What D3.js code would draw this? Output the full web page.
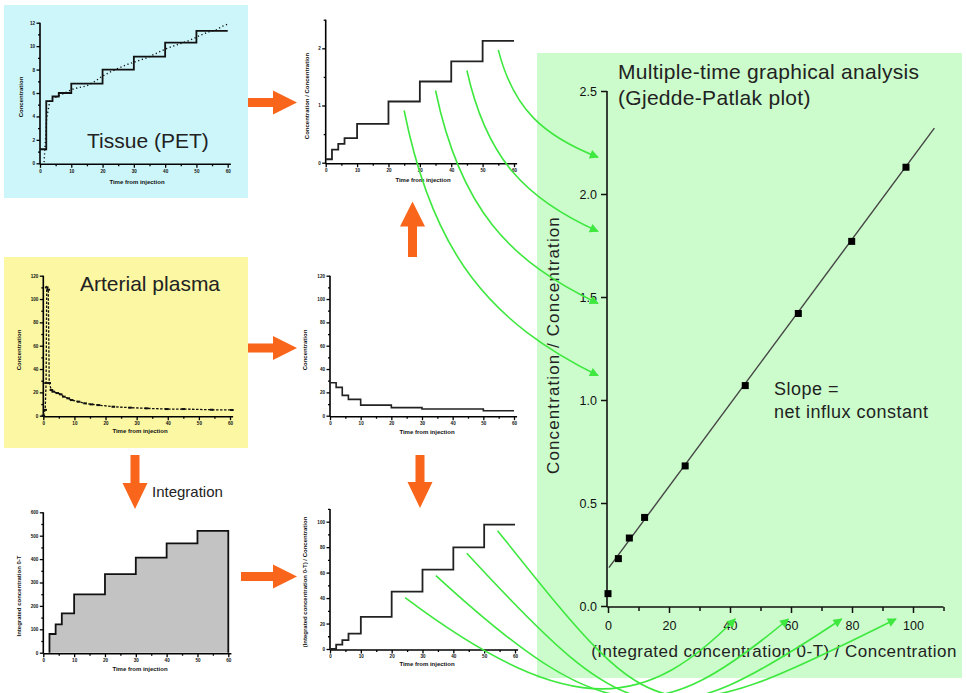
<!DOCTYPE html>
<html>
<head>
<meta charset="utf-8">
<script src="https://cdn.jsdelivr.net/npm/d3@7"></script>
<style>
  body { margin: 0; background: #fff; }
  svg { display: block; }
  text { font-family: Arial, "Liberation Sans", sans-serif; }
</style>
</head>
<body>
<svg id="chart" width="966" height="693"></svg>
<script>
// ---- acquisition frames (minutes after injection) ----
const frameStart = [0, 2, 4, 6, 10, 20, 30, 40, 50];
const frameEnd   = [2, 4, 6, 10, 20, 30, 40, 50, 60];
const timeTicks  = [0, 10, 20, 30, 40, 50, 60];
const timeMinor  = [5, 15, 25, 35, 45, 55];

// tissue (PET) time-activity curve and its frame means
const tissueTime  = [1.3, 1.6, 1.9, 2.1, 3.2, 4.8, 6.2, 8.0, 10.1, 12.2, 14.9, 17.6, 19.7, 22.5, 27.5, 31.9, 34.1, 40.5, 42.6, 45.8, 47.9, 51.1, 53.8, 56.4, 58.4, 60.2];
const tissueValue = [0.1, 1.4, 2.6, 3.8, 5.4, 5.6, 5.8, 6.0, 6.3, 6.45, 6.6, 7.0, 7.4, 7.8, 8.4, 8.8, 9.0, 9.8, 10.0, 10.3, 10.5, 10.9, 11.2, 11.4, 11.7, 11.9];
const tissueFrameMean = [1.2, 5.3, 5.7, 6.0, 6.8, 8.0, 9.1, 10.3, 11.3];

// arterial plasma input curve, frame means and running integral
const plasmaTime  = [0, 0.6, 0.9, 1.1, 1.6, 1.9, 2.6, 3.2, 4.5, 5.6, 6.6, 8.0, 9.1, 11.3, 13.4, 15.5, 17.7, 22.5, 27.9, 33.2, 39.7, 45.0, 54.1, 60.6];
const plasmaValue = [0, 5, 28, 110, 108, 28, 22, 20.6, 19.4, 18.3, 16.3, 14.9, 13.4, 12.0, 10.6, 9.7, 9.1, 7.7, 6.9, 6.3, 5.7, 5.7, 5.1, 4.9];
const plasmaFrameMean = [28.3, 24.3, 17.4, 14.0, 9.1, 6.9, 5.8, 5.7, 4.3];
const plasmaIntegral  = [0, 80, 121, 168, 249, 336, 406, 467, 521];

// Gjedde-Patlak coordinates per frame
const patlakX = [0, 3.4, 7.0, 12.0, 25.3, 45.0, 62.4, 79.9, 97.7];
const patlakY = [0.06, 0.23, 0.33, 0.43, 0.68, 1.07, 1.42, 1.77, 2.13];
const fitIntercept = 0.18, fitSlope = 0.02, fitFrom = 0.3, fitTo = 107;
const patlakXTicks = [0, 20, 40, 60, 80, 100];
const patlakXMinor = [10, 30, 50, 70, 90, 110];
const patlakYTicks = [0, 0.5, 1.0, 1.5, 2.0, 2.5];

// frames whose values are traced onto the Patlak axes
const linkedFrames = [5, 6, 7, 8];

const orange = "#f9651a";
const green  = "#3ee83e";

const svg = d3.select("#chart");

// ---- coloured backdrops ----
svg.append("rect").attr("x", 4).attr("y", 5).attr("width", 244).attr("height", 193).attr("fill", "#cdf6fa");
svg.append("rect").attr("x", 4).attr("y", 257).attr("width", 244).attr("height", 191).attr("fill", "#fbf7a3");
svg.append("rect").attr("x", 537).attr("y", 53).attr("width", 425).attr("height", 625).attr("fill", "#ccfccc");

// ---- small time-course panel with Origin-style axes ----
function smallPanel(cfg) {
  const x = d3.scaleLinear().domain([0, 60]).range(cfg.xr);
  const y = d3.scaleLinear().domain([0, cfg.yMax]).range(cfg.yr);
  const g = svg.append("g");
  const axisY = cfg.yr[0] + 1;
  const axisX = cfg.xr[0];

  // x axis
  const gx = g.append("g").attr("transform", `translate(0,${axisY})`);
  gx.call(d3.axisBottom(x).tickValues(timeTicks).tickSize(3.5).tickPadding(1.5).tickFormat(d3.format("d")));
  gx.call(a => a.select(".domain").remove());
  const gxm = g.append("g").attr("transform", `translate(0,${axisY})`);
  gxm.call(d3.axisBottom(x).tickValues(timeMinor).tickSize(2).tickFormat(""));
  gxm.select(".domain").remove();
  g.append("line").attr("x1", axisX).attr("x2", x(61)).attr("y1", axisY).attr("y2", axisY)
    .attr("stroke", "#000").attr("stroke-width", 1.6);

  // y axis
  const gy = g.append("g").attr("transform", `translate(${axisX},0)`);
  gy.call(d3.axisLeft(y).tickValues(cfg.yTicks).tickSize(3.5).tickPadding(1.5).tickFormat(cfg.yFormat || d3.format("d")));
  gy.select(".domain").remove();
  const gym = g.append("g").attr("transform", `translate(${axisX},0)`);
  gym.call(d3.axisLeft(y).tickValues(cfg.yMinor).tickSize(2).tickFormat(""));
  gym.select(".domain").remove();
  g.append("line").attr("x1", axisX).attr("x2", axisX).attr("y1", axisY).attr("y2", y(cfg.yTop))
    .attr("stroke", "#000").attr("stroke-width", 1.6);

  g.selectAll(".tick line").attr("stroke", "#000").attr("stroke-width", 1.3);
  g.selectAll(".tick text").attr("font-size", 4.6).attr("font-weight", "bold")
    .attr("font-family", "Arial, sans-serif").attr("fill", "#111");

  // axis titles
  g.append("text").attr("x", cfg.xt[0]).attr("y", cfg.xt[1]).attr("text-anchor", "middle")
    .attr("font-size", 6).attr("font-weight", "bold").attr("fill", "#111").text("Time from injection");
  g.append("text").attr("transform", `translate(${cfg.yt[0]},${cfg.yt[1]}) rotate(-90)`)
    .attr("text-anchor", "middle").attr("font-size", 6).attr("font-weight", "bold").attr("fill", "#111")
    .text(cfg.yTitle);
  return { g, x, y };
}

function stepPoints(values, firstFrame = 0) {
  const pts = [];
  values.forEach((v, i) => { if (i >= firstFrame) pts.push([frameStart[i], v], [frameEnd[i], v]); });
  return pts;
}

// ---- Tissue (PET) ----
const pA = smallPanel({
  xr: [40, 227.7], yr: [163.3, 22.7], yMax: 12, yTop: 12,
  yTicks: d3.range(0, 13, 2), yMinor: d3.range(1, 12, 2),
  xt: [137, 184], yt: [23, 97], yTitle: "Concentration"
});
pA.g.append("path")
  .attr("d", d3.line().x((d, i) => pA.x(tissueTime[i])).y(d => pA.y(d))(tissueValue))
  .attr("fill", "none").attr("stroke", "#111").attr("stroke-width", 1.4).attr("stroke-dasharray", "1.2,2.6");
pA.g.append("path")
  .attr("d", d3.line().x(d => pA.x(d[0])).y(d => pA.y(d[1]))(stepPoints(tissueFrameMean)))
  .attr("fill", "none").attr("stroke", "#111").attr("stroke-width", 1.8);
svg.append("text").attr("x", 87).attr("y", 148).attr("font-size", 21).attr("fill", "#222").text("Tissue (PET)");

// ---- Tissue / plasma ratio per frame ----
const pB = smallPanel({
  xr: [325.7, 514], yr: [162.7, 19.7], yMax: 2.5, yTop: 2.5,
  yTicks: [0, 1, 2], yMinor: [0.5, 1.5, 2.5], yFormat: d3.format("d"),
  xt: [423, 182], yt: [309, 96], yTitle: "Concentration / Concentration"
});
pB.g.append("path")
  .attr("d", d3.line().x(d => pB.x(d[0])).y(d => pB.y(d[1]))(stepPoints(patlakY)))
  .attr("fill", "none").attr("stroke", "#222").attr("stroke-width", 1.8);

// ---- Arterial plasma ----
const pC = smallPanel({
  xr: [43.3, 230], yr: [415.7, 275.7], yMax: 120, yTop: 120,
  yTicks: d3.range(0, 121, 20), yMinor: d3.range(10, 120, 20),
  xt: [140, 433], yt: [20.7, 350], yTitle: "Concentration"
});
pC.g.append("path")
  .attr("d", d3.line().x((d, i) => pC.x(plasmaTime[i])).y(d => pC.y(d))(plasmaValue))
  .attr("fill", "none").attr("stroke", "#111").attr("stroke-width", 1.3).attr("stroke-dasharray", "2.5,1.5");
pC.g.selectAll("rect.pm").data(plasmaValue).join("rect").attr("class", "pm")
  .attr("x", (d, i) => pC.x(plasmaTime[i]) - 1.8).attr("y", d => pC.y(d) - 1)
  .attr("width", 3.6).attr("height", 2).attr("fill", "#111");
svg.append("text").attr("x", 80).attr("y", 291).attr("font-size", 21).attr("fill", "#222").text("Arterial plasma");

// ---- Plasma frame means ----
const pD = smallPanel({
  xr: [330, 514], yr: [415.7, 275.7], yMax: 120, yTop: 120,
  yTicks: d3.range(0, 121, 20), yMinor: d3.range(10, 120, 20),
  xt: [427, 434], yt: [307, 350], yTitle: "Concentration"
});
pD.g.append("path")
  .attr("d", d3.line().x(d => pD.x(d[0])).y(d => pD.y(d[1]))(stepPoints(plasmaFrameMean)))
  .attr("fill", "none").attr("stroke", "#222").attr("stroke-width", 1.6);

// ---- Integrated plasma ----
const pE = smallPanel({
  xr: [43.3, 228.3], yr: [652.7, 512.3], yMax: 600, yTop: 600,
  yTicks: d3.range(0, 601, 100), yMinor: d3.range(50, 600, 100),
  xt: [140, 671], yt: [20.7, 596], yTitle: "Integrated concentration 0-T"
});
const intPts = stepPoints(plasmaIntegral, 1);
pE.g.insert("path", ":first-child")
  .attr("d", d3.area().x(d => pE.x(d[0])).y0(pE.y(0)).y1(d => pE.y(d[1]))(intPts))
  .attr("fill", "#c3c3c3");
pE.g.append("path")
  .attr("d", d3.line().x(d => pE.x(d[0])).y(d => pE.y(d[1]))([[frameStart[1], 0], ...intPts, [frameEnd[8], 0]]))
  .attr("fill", "none").attr("stroke", "#111").attr("stroke-width", 1.8);

// ---- Integral / plasma per frame ----
const pF = smallPanel({
  xr: [330, 515], yr: [649, 521.7], yMax: 100, yTop: 110,
  yTicks: d3.range(0, 101, 20), yMinor: d3.range(10, 111, 20),
  xt: [427, 666], yt: [307, 582], yTitle: "(Integrated concentration 0-T) / Concentration"
});
pF.g.append("path")
  .attr("d", d3.line().x(d => pF.x(d[0])).y(d => pF.y(d[1]))(stepPoints(patlakX)))
  .attr("fill", "none").attr("stroke", "#222").attr("stroke-width", 1.8);

// ---- block arrows between panels ----
function blockArrow(x0, y0, x1, y1, shaft, head, headLen) {
  const L = Math.hypot(x1 - x0, y1 - y0), ux = (x1 - x0) / L, uy = (y1 - y0) / L, nx = -uy, ny = ux;
  const bx = x1 - ux * headLen, by = y1 - uy * headLen;
  const pts = [
    [x0 + nx * shaft / 2, y0 + ny * shaft / 2], [bx + nx * shaft / 2, by + ny * shaft / 2],
    [bx + nx * head / 2, by + ny * head / 2], [x1, y1],
    [bx - nx * head / 2, by - ny * head / 2], [bx - nx * shaft / 2, by - ny * shaft / 2],
    [x0 - nx * shaft / 2, y0 - ny * shaft / 2]];
  svg.append("polygon").attr("points", pts.map(p => p.join(",")).join(" ")).attr("fill", orange);
}
blockArrow(248, 102.5, 297, 102.5, 9, 24, 24);
blockArrow(412.5, 257, 412.5, 201.5, 9, 25, 25);
blockArrow(248, 348, 297, 348, 9, 24, 24);
blockArrow(135, 455, 135, 509, 9, 25, 26);
blockArrow(420, 455, 420, 508, 9, 25, 26);
blockArrow(241, 576.5, 297, 576.5, 9, 24, 24);
svg.append("text").attr("x", 152).attr("y", 497).attr("font-size", 15).attr("fill", "#222").text("Integration");

// ---- Gjedde-Patlak plot ----
const xP = d3.scaleLinear().domain([0, 110]).range([608, 943.5]);
const yP = d3.scaleLinear().domain([0, 2.5]).range([606, 91]);
const gP = svg.append("g");
const pAxisY = 607, pAxisX = 607;

const gpx = gP.append("g").attr("transform", `translate(0,${pAxisY})`);
gpx.call(d3.axisBottom(xP).tickValues(patlakXTicks).tickSize(6).tickPadding(8).tickFormat(d3.format("d")));
gpx.select(".domain").remove();
const gpxm = gP.append("g").attr("transform", `translate(0,${pAxisY})`);
gpxm.call(d3.axisBottom(xP).tickValues(patlakXMinor).tickSize(4).tickFormat(""));
gpxm.select(".domain").remove();
const gpy = gP.append("g").attr("transform", `translate(${pAxisX},0)`);
gpy.call(d3.axisLeft(yP).tickValues(patlakYTicks).tickSize(6).tickPadding(4).tickFormat(d3.format(".1f")));
gpy.select(".domain").remove();
gP.selectAll(".tick line").attr("stroke", "#111").attr("stroke-width", 1.5);
gP.selectAll(".tick text").attr("font-size", 12.5).attr("font-family", "'DejaVu Sans Mono', monospace").attr("fill", "#111");
gP.append("line").attr("x1", pAxisX).attr("x2", xP(110)).attr("y1", pAxisY).attr("y2", pAxisY)
  .attr("stroke", "#111").attr("stroke-width", 1.6);
gP.append("line").attr("x1", pAxisX).attr("x2", pAxisX).attr("y1", pAxisY).attr("y2", yP(2.5))
  .attr("stroke", "#111").attr("stroke-width", 1.6);

// regression line and frame points
gP.append("line")
  .attr("x1", xP(fitFrom)).attr("y1", yP(fitIntercept + fitSlope * fitFrom))
  .attr("x2", xP(fitTo)).attr("y2", yP(fitIntercept + fitSlope * fitTo))
  .attr("stroke", "#444").attr("stroke-width", 1.4);
gP.selectAll("rect.pt").data(patlakX).join("rect").attr("class", "pt")
  .attr("x", d => xP(d) - 3.5).attr("y", (d, i) => yP(patlakY[i]) - 3.5)
  .attr("width", 7).attr("height", 7).attr("fill", "#000");

gP.append("text").attr("x", 618).attr("y", 79).attr("font-size", 21).attr("letter-spacing", 0.3)
  .attr("fill", "#222").text("Multiple-time graphical analysis");
gP.append("text").attr("x", 618).attr("y", 105).attr("font-size", 21).attr("letter-spacing", 0.3)
  .attr("fill", "#222").text("(Gjedde-Patlak plot)");
gP.append("text").attr("x", 774).attr("y", 395).attr("font-size", 18).attr("letter-spacing", 0.5)
  .attr("fill", "#222").text("Slope =");
gP.append("text").attr("x", 774).attr("y", 418).attr("font-size", 18).attr("letter-spacing", 0.5)
  .attr("fill", "#222").text("net influx constant");
gP.append("text").attr("transform", "translate(559,345) rotate(-90)").attr("text-anchor", "middle")
  .attr("font-size", 17).attr("letter-spacing", 1.1).attr("fill", "#222").text("Concentration / Concentration");
gP.append("text").attr("x", 774).attr("y", 657).attr("text-anchor", "middle")
  .attr("font-size", 17).attr("letter-spacing", 0.45).attr("fill", "#222").text("(Integrated concentration 0-T) / Concentration");

// ---- green tracer arrows from frame values to the Patlak axes ----
svg.append("defs").append("marker").attr("id", "gh").attr("viewBox", "0 0 10 10")
  .attr("refX", 9).attr("refY", 5).attr("markerWidth", 11).attr("markerHeight", 9)
  .attr("markerUnits", "userSpaceOnUse").attr("orient", "auto")
  .append("path").attr("d", "M0,0L10,5L0,10z").attr("fill", green);

const mid = i => (frameStart[i] + frameEnd[i]) / 2;
const gG = svg.append("g").attr("fill", "none").attr("stroke", green).attr("stroke-width", 1.6);

// ratio frames -> Patlak y axis
linkedFrames.forEach(i => {
  const p0 = [pB.x(mid(i)), pB.y(patlakY[i]) + 9];
  const p3 = [xP(0) - 10, yP(patlakY[i]) - 10];
  const dx = p3[0] - p0[0], dy = p3[1] - p0[1];
  const p = d3.path();
  p.moveTo(...p0);
  p.bezierCurveTo(p0[0] + 0.15 * dx, p0[1] + 0.55 * dy, p3[0] - 0.55 * dx, p3[1] - 0.2 * dy, ...p3);
  gG.append("path").attr("d", p.toString()).attr("marker-end", "url(#gh)");
});

// normalised-integral frames -> Patlak x axis
linkedFrames.forEach((i, k) => {
  const f = k / (linkedFrames.length - 1);
  const p0 = [pF.x(mid(i)) - 2, pF.y(patlakX[i]) + 6];
  const p3 = [xP(patlakX[i]) - 10, 619];
  const dx = p3[0] - p0[0];
  const s0 = 0.75 + 0.5 * f, s1 = 1 - 0.5 * f;
  const a = dx * (0.52 - 0.12 * f), b = dx * (0.26 + 0.34 * f);
  const p = d3.path();
  p.moveTo(...p0);
  p.bezierCurveTo(p0[0] + a, p0[1] + a * s0, p3[0] - b, p3[1] + b * s1, ...p3);
  gG.append("path").attr("d", p.toString()).attr("marker-end", "url(#gh)");
});
</script>
</body>
</html>
